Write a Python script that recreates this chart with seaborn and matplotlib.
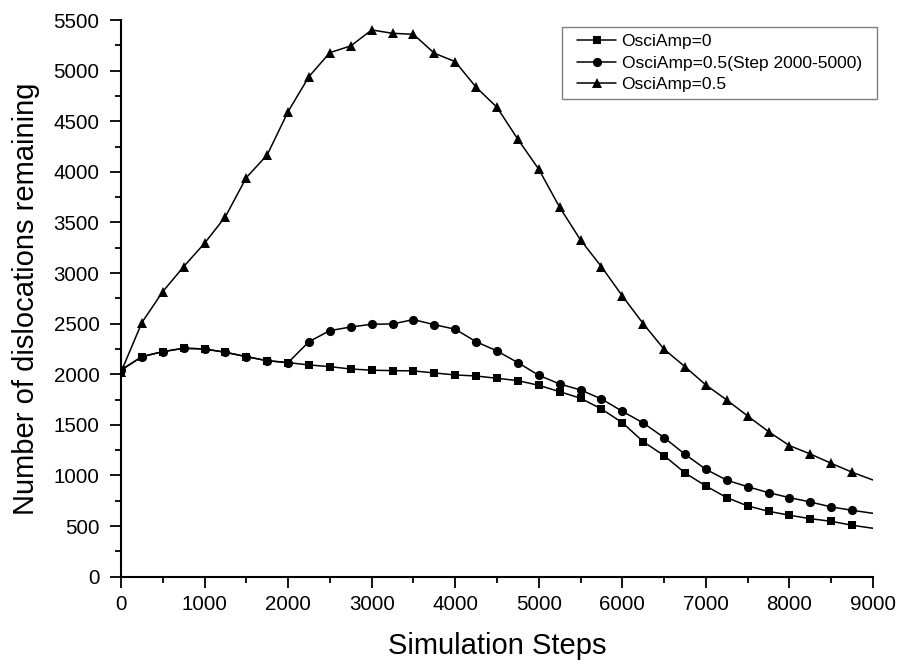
import numpy as np
import pandas as pd
import matplotlib
matplotlib.use("Agg")
import matplotlib.pyplot as plt
from matplotlib.patches import Rectangle
import seaborn as sns

# Steps sampled every 250 (last point at 9000 has no marker)
steps = [0, 250, 500, 750, 1000, 1250, 1500, 1750, 2000, 2250, 2500, 2750,
         3000, 3250, 3500, 3750, 4000, 4250, 4500, 4750, 5000, 5250, 5500,
         5750, 6000, 6250, 6500, 6750, 7000, 7250, 7500, 7750, 8000, 8250,
         8500, 8750, 9000]

amp0 = [2040, 2174, 2223, 2257, 2250, 2217, 2174, 2134, 2115, 2092, 2075, 2052,
        2040, 2036, 2033, 2013, 1993, 1983, 1960, 1937, 1891, 1828, 1763,
        1657, 1522, 1334, 1196, 1025, 896, 781, 699, 646, 607, 573,
        547, 508, 478]

amp05_partial = [2040, 2174, 2223, 2257, 2250, 2217, 2174, 2134, 2115, 2322, 2431, 2467,
                 2494, 2497, 2540, 2490, 2445, 2322, 2230, 2115, 1990, 1904, 1845,
                 1756, 1634, 1519, 1374, 1209, 1061, 953, 889, 830, 781, 738,
                 689, 656, 626]

amp05 = [2020, 2510, 2816, 3063, 3294, 3557, 3943, 4167, 4595, 4941, 5178, 5244,
         5402, 5369, 5359, 5172, 5089, 4836, 4638, 4322, 4026, 3650, 3327,
         3063, 2774, 2500, 2247, 2075, 1894, 1746, 1588, 1433, 1295, 1212,
         1120, 1032, 955]

labels = ["OsciAmp=0", "OsciAmp=0.5(Step 2000-5000)", "OsciAmp=0.5"]

sns.set_style("ticks")
plt.rcParams['font.family'] = ['Liberation Sans', 'DejaVu Sans']
plt.rcParams['text.color'] = 'black'
plt.rcParams['axes.labelcolor'] = 'black'

fig = plt.figure(figsize=(9.04, 6.70), dpi=100)
ax = fig.add_axes([0.1338, 0.1393, 0.8319, 0.8308])

marks = list(range(len(steps) - 1))
series = [(amp0, 's', 6.2), (amp05_partial, 'o', 6.6), (amp05, '^', 7.8)]
for (vals, mk, ms), lab in zip(series, labels):
    sns.lineplot(x=steps, y=vals, ax=ax, color='black', linewidth=1.1,
                 marker=mk, markersize=ms, markeredgewidth=0,
                 markevery=marks, label=lab)

ax.set_xlim(0, 9000)
ax.set_ylim(0, 5500)
ax.set_xticks(range(0, 9001, 1000))
ax.set_xticks(range(500, 9000, 1000), minor=True)
ax.set_yticks(range(0, 5501, 500))
ax.set_yticks(range(250, 5500, 500), minor=True)

for side in ['top', 'right']:
    ax.spines[side].set_visible(False)
for side in ['left', 'bottom']:
    ax.spines[side].set_linewidth(1.5)
    ax.spines[side].set_color('black')

ax.tick_params(which='major', direction='out', length=8, width=1.3,
               labelsize=14.8, colors='black')
ax.tick_params(axis='x', which='major', pad=5)
ax.tick_params(axis='y', which='major', pad=7.5)
ax.tick_params(which='minor', direction='out', length=4, width=1.3, colors='black')

ax.set_xlabel('Simulation Steps', fontsize=21, labelpad=13, color='black')
ax.set_ylabel('Number of dislocations remaining', fontsize=21, labelpad=10,
              color='black')

leg = ax.legend(loc='upper right', bbox_to_anchor=(0.9532, 0.9495),
                bbox_transform=fig.transFigure, borderaxespad=0,
                fontsize=12.5, handlelength=2.25, handletextpad=0.3,
                labelspacing=0.38, borderpad=0.0, frameon=False)
for t in leg.get_texts():
    t.set_color('black')

# legend frame: wider side padding than top/bottom
fig.canvas.draw()
bb = leg.get_window_extent()
padx, pady = 15, 7
fig.patches.append(Rectangle((bb.x0 - padx, bb.y0 - pady),
                             bb.width + 2 * padx, bb.height + 2 * pady,
                             transform=None, fill=False,
                             edgecolor='0.5', linewidth=1.0))

fig.savefig('out.png', dpi=100)
